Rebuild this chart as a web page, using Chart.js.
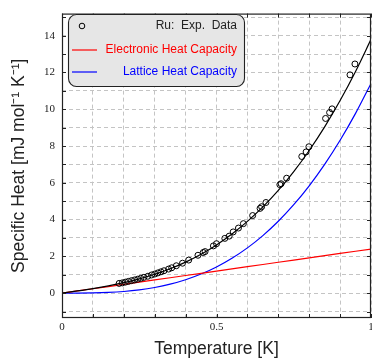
<!DOCTYPE html>
<html>
<head>
<meta charset="utf-8">
<script src="https://cdn.jsdelivr.net/npm/chart.js@4.4.1/dist/chart.umd.min.js"></script>
<style>
  html, body { margin: 0; padding: 0; background: #fff; }
</style>
</head>
<body>
<canvas id="heatChart" width="372" height="360"></canvas>
<script>
// Ru specific heat: measured points
const tempK = [0.185, 0.195, 0.205, 0.215, 0.225, 0.235, 0.245, 0.255, 0.265, 0.278,
               0.29, 0.30, 0.31, 0.32, 0.33, 0.345, 0.355, 0.37, 0.39, 0.41,
               0.44, 0.457, 0.463, 0.49, 0.50, 0.527, 0.541, 0.554, 0.571, 0.587,
               0.617, 0.641, 0.646, 0.66, 0.705, 0.709, 0.727, 0.776, 0.79, 0.799,
               0.853, 0.866, 0.874, 0.932, 0.948];
const heatExp = [0.53, 0.56, 0.60, 0.64, 0.68, 0.72, 0.76, 0.81, 0.86, 0.92,
                 0.99, 1.04, 1.10, 1.16, 1.22, 1.31, 1.38, 1.49, 1.63, 1.80,
                 2.06, 2.21, 2.26, 2.57, 2.69, 2.98, 3.10, 3.33, 3.54, 3.78,
                 4.22, 4.61, 4.70, 4.93, 5.90, 5.95, 6.25, 7.43, 7.68, 7.96,
                 9.50, 9.82, 10.02, 11.87, 12.46];

// fit curves sampled every 0.05 K
const fitT = [0, 0.05, 0.1, 0.15, 0.2, 0.25, 0.3, 0.35, 0.4, 0.45, 0.5,
              0.55, 0.6, 0.65, 0.7, 0.75, 0.8, 0.85, 0.9, 0.95, 1.0];
const electronicFit = [0, 0.12, 0.24, 0.36, 0.48, 0.60, 0.72, 0.84, 0.96, 1.08, 1.20,
                       1.32, 1.44, 1.56, 1.68, 1.80, 1.92, 2.04, 2.16, 2.28, 2.40];
const latticeFit = [0, 0.001, 0.011, 0.038, 0.091, 0.178, 0.308, 0.489, 0.730, 1.039, 1.425,
                    1.897, 2.462, 3.131, 3.910, 4.809, 5.837, 7.001, 8.311, 9.774, 11.40];
const totalFit = [0, 0.121, 0.251, 0.398, 0.571, 0.778, 1.028, 1.329, 1.690, 2.119, 2.625,
                  3.217, 3.902, 4.691, 5.590, 6.609, 7.757, 9.041, 10.471, 12.054, 13.80];

const xLabels = [0, 0.5, 1];
const legendItems = ['Ru:  Exp.  Data', 'Electronic Heat Capacity', 'Lattice Heat Capacity'];

const pts = (xs, ys) => xs.map((x, i) => ({ x: x, y: ys[i] }));

// frame with inward ticks, x tick labels, and the boxed legend in the upper left
const framePlugin = {
  id: 'frame',
  afterDatasetsDraw(chart) {
    const { ctx, chartArea: a, scales: { x, y } } = chart;
    ctx.save();
    ctx.strokeStyle = '#222';
    ctx.lineWidth = 1;
    ctx.beginPath();
    for (let v = 0; v <= 10; v++) {
      const px = Math.round(x.getPixelForValue(v / 10)) + 0.5;
      ctx.moveTo(px, a.bottom); ctx.lineTo(px, a.bottom - 4);
      ctx.moveTo(px, a.top); ctx.lineTo(px, a.top + 4);
    }
    for (let v = -1; v <= 15; v++) {
      const py = Math.round(y.getPixelForValue(v)) + 0.5;
      ctx.moveTo(a.left, py); ctx.lineTo(a.left + 4, py);
      ctx.moveTo(a.right, py); ctx.lineTo(a.right - 4, py);
    }
    ctx.stroke();
    ctx.lineWidth = 1.2;
    ctx.strokeRect(a.left + 0.5, a.top + 0.5, a.right - a.left - 1, a.bottom - a.top - 1);

    // x tick labels (drawn here so the last one can sit on the canvas edge)
    ctx.fillStyle = '#222';
    ctx.font = '11px "Liberation Serif"';
    ctx.textAlign = 'center';
    ctx.textBaseline = 'top';
    xLabels.forEach(v => ctx.fillText(String(v), x.getPixelForValue(v), a.bottom + 4));

    // legend
    const bx = 68.5, by = 14.5, bw = 176, bh = 72;
    ctx.beginPath();
    ctx.roundRect(bx, by, bw, bh, 8);
    ctx.fillStyle = '#e6e6e6';
    ctx.fill();
    ctx.lineWidth = 1.1;
    ctx.strokeStyle = '#222';
    ctx.stroke();

    const rows = [26, 50, 72];
    const colors = ['#222', '#ff0000', '#0000ff'];
    ctx.font = '12px "Liberation Sans"';
    ctx.textAlign = 'right';
    ctx.textBaseline = 'middle';
    legendItems.forEach((txt, i) => {
      ctx.fillStyle = colors[i];
      ctx.fillText(txt, 237, rows[i]);
    });
    ctx.lineWidth = 1;
    ctx.strokeStyle = '#000';
    ctx.beginPath();
    ctx.arc(82, rows[0], 2.8, 0, Math.PI * 2);
    ctx.stroke();
    [1, 2].forEach(i => {
      ctx.strokeStyle = colors[i];
      ctx.lineWidth = 1.2;
      ctx.beginPath();
      ctx.moveTo(72, rows[i]); ctx.lineTo(97, rows[i]);
      ctx.stroke();
    });
    ctx.restore();
  }
};

new Chart(document.getElementById('heatChart'), {
  type: 'scatter',
  data: {
    datasets: [
      {
        label: 'Ru: Exp. Data',
        data: pts(tempK, heatExp),
        showLine: false,
        pointStyle: 'circle',
        pointRadius: 3,
        pointBorderWidth: 1,
        pointBorderColor: '#000',
        pointBackgroundColor: 'rgba(0,0,0,0)',
        order: 0
      },
      {
        label: 'Total',
        data: pts(fitT, totalFit),
        showLine: true,
        borderColor: '#000',
        borderWidth: 1.2,
        pointRadius: 0,
        cubicInterpolationMode: 'monotone',
        order: 1
      },
      {
        label: 'Electronic Heat Capacity',
        data: pts(fitT, electronicFit),
        showLine: true,
        borderColor: '#ff0000',
        borderWidth: 1.2,
        pointRadius: 0,
        order: 2
      },
      {
        label: 'Lattice Heat Capacity',
        data: pts(fitT, latticeFit),
        showLine: true,
        borderColor: '#0000ff',
        borderWidth: 1.2,
        pointRadius: 0,
        cubicInterpolationMode: 'monotone',
        order: 3
      }
    ]
  },
  options: {
    responsive: false,
    animation: false,
    layout: { autoPadding: false, padding: { left: 0, right: 1, top: 9, bottom: 0 } },
    plugins: { legend: { display: false }, tooltip: { enabled: false } },
    scales: {
      x: {
        type: 'linear',
        min: 0,
        max: 1,
        afterFit(scale) { scale.height = 42; },
        border: { display: false, dash: [4, 3] },
        grid: { color: '#c4c4c4', lineWidth: 1, drawTicks: false },
        ticks: { stepSize: 0.1, display: false },
        title: {
          display: true,
          text: 'Temperature [K]',
          color: '#222',
          font: { family: '"Liberation Sans"', size: 17.5 },
          padding: { top: 0, bottom: 0 }
        }
      },
      y: {
        type: 'linear',
        min: -1.35,
        max: 15.2,
        afterFit(scale) { scale.width = 62; },
        border: { display: false, dash: [4, 3] },
        grid: { color: '#c4c4c4', lineWidth: 1, drawTicks: false },
        ticks: {
          stepSize: 1,
          includeBounds: false,
          padding: 7,
          autoSkip: false,
          color: '#222',
          font: { family: '"Liberation Serif"', size: 11 },
          callback: v => (Math.round(v) % 2 === 0 ? String(Math.round(v)) : '')
        },
        title: {
          display: true,
          text: 'Specific Heat [mJ mol⁻¹ K⁻¹]',
          color: '#222',
          font: { family: '"Liberation Sans"', size: 17.5 },
          padding: { top: 9, bottom: 0 }
        }
      }
    }
  },
  plugins: [framePlugin]
});
</script>
</body>
</html>
